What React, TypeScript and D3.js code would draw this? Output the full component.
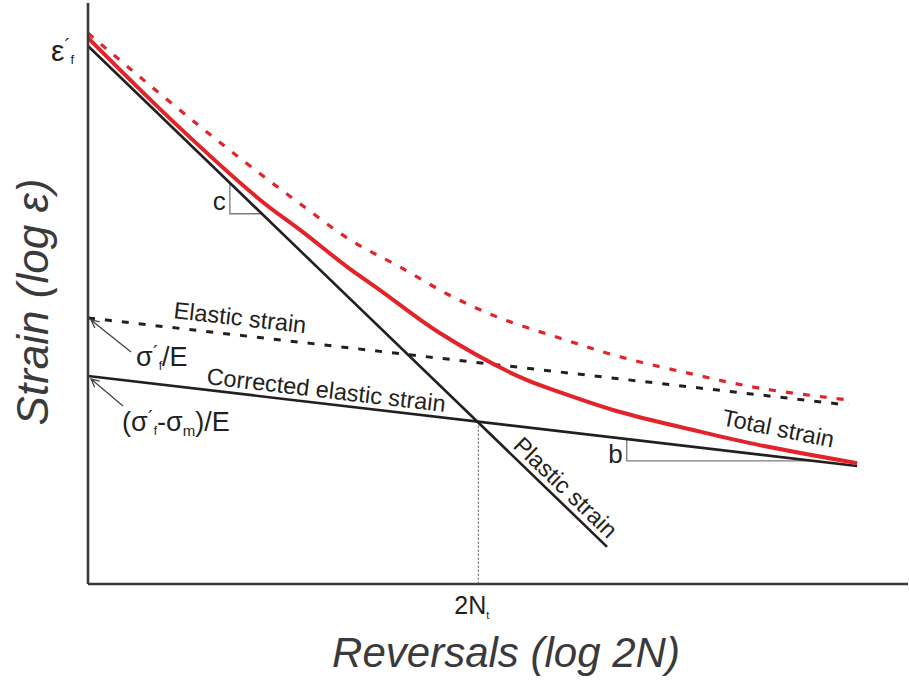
import React from "react";
import * as d3 from "d3";

// Abstract log-log units (x: log 2N, y: log ε)
const plasticX = [0, 63.3];
const plasticY = [92.6, 6.4];
const correctedX = [0, 93.8];
const correctedY = [35.8, 20.3];
const elasticX = [0, 92.7];
const elasticY = [45.8, 30.8];
const totalX = [0, 11.2, 21.0, 25.9, 31.6, 35.6, 42.9, 52.7, 57.6, 64.9, 73.8, 81.9, 93.8];
const totalY = [94.0, 78.5, 66.1, 60.9, 54.6, 50.6, 43.2, 35.6, 33.0, 29.6, 26.5, 23.9, 20.8];
const totalUncX = [0, 6.3, 13.7, 19.8, 25.9, 32.0, 38.0, 44.1, 50.2, 57.6, 64.9, 73.8, 81.9, 92.6];
const totalUncY = [94.8, 87.3, 78.7, 71.9, 65.4, 59.2, 54.6, 49.7, 45.8, 42.3, 39.1, 36.1, 33.7, 31.7];
const transitionX = 47.6;
const cTriangleX = [17.3, 21.2];
const bTriangleX = [65.7, 88.4];

const W = 909;
const H = 681;
const RED = "#e2232a";
const BLACK = "#231f20";
const GRAY = "#7a7a7a";
const FONT = "'Liberation Sans', Arial, Helvetica, sans-serif";

const x = d3.scaleLinear().domain([0, 100]).range([88, 908]);
const y = d3.scaleLinear().domain([0, 100]).range([584, 3]);

const lineGen = d3
  .line<[number, number]>()
  .x((d) => x(d[0]))
  .y((d) => y(d[1]));
const curveGen = d3
  .line<[number, number]>()
  .x((d) => x(d[0]))
  .y((d) => y(d[1]))
  .curve(d3.curveCatmullRom.alpha(0.5));

const zip = (a: number[], b: number[]) => a.map((v, i) => [v, b[i]] as [number, number]);
const interp = (xs: number[], ys: number[], v: number) =>
  ys[0] + ((ys[1] - ys[0]) * (v - xs[0])) / (xs[1] - xs[0]);

function triangle(xs: number[], ys: number[], t: number[]) {
  const y0 = interp(xs, ys, t[0]);
  const y1 = interp(xs, ys, t[1]);
  return `M${x(t[0])},${y(y0)} L${x(t[0])},${y(y1)} L${x(t[1])},${y(y1)}`;
}

function arrow(x1: number, y1: number, x2: number, y2: number) {
  const ang = Math.atan2(y2 - y1, x2 - x1);
  const L = 9;
  const a1 = ang + Math.PI - 0.45;
  const a2 = ang + Math.PI + 0.45;
  return `M${x1},${y1} L${x2},${y2} M${x2 + L * Math.cos(a1)},${y2 + L * Math.sin(a1)} L${x2},${y2} L${x2 + L * Math.cos(a2)},${y2 + L * Math.sin(a2)}`;
}

export default function App() {
  const angElastic = (Math.atan2(y(elasticY[1]) - y(elasticY[0]), x(elasticX[1]) - x(elasticX[0])) * 180) / Math.PI;
  const angCorr = (Math.atan2(y(correctedY[1]) - y(correctedY[0]), x(correctedX[1]) - x(correctedX[0])) * 180) / Math.PI;
  const angPlastic = (Math.atan2(y(plasticY[1]) - y(plasticY[0]), x(plasticX[1]) - x(plasticX[0])) * 180) / Math.PI;
  const yTrans = interp(correctedX, correctedY, transitionX);
  const yElastic0 = y(elasticY[0]);
  const yCorr0 = y(correctedY[0]);

  return (
    <svg
      width={W}
      height={H}
      style={{ position: "absolute", left: 0, top: 0, background: "#fff" }}
      fontFamily={FONT}
    >
      {/* dotted transition line */}
      <line
        x1={x(transitionX)}
        x2={x(transitionX)}
        y1={y(yTrans)}
        y2={y(0)}
        stroke="#555"
        strokeWidth={1}
        strokeDasharray="2,2"
      />
      {/* c and b slope triangles */}
      <path d={triangle(plasticX, plasticY, cTriangleX)} fill="none" stroke={GRAY} strokeWidth={1.3} />
      <path d={triangle(correctedX, correctedY, bTriangleX)} fill="none" stroke={GRAY} strokeWidth={1.3} />

      {/* uncorrected curves (dashed) */}
      <path d={lineGen(zip(elasticX, elasticY)) || ""} fill="none" stroke={BLACK} strokeWidth={3} strokeDasharray="7,10" />
      <path d={curveGen(zip(totalUncX, totalUncY)) || ""} fill="none" stroke={RED} strokeWidth={3.2} strokeDasharray="7,10" />

      {/* solid lines */}
      <path d={lineGen(zip(plasticX, plasticY)) || ""} fill="none" stroke={BLACK} strokeWidth={2.6} />
      <path d={lineGen(zip(correctedX, correctedY)) || ""} fill="none" stroke={BLACK} strokeWidth={2.6} />
      <path d={curveGen(zip(totalX, totalY)) || ""} fill="none" stroke={RED} strokeWidth={4} />

      {/* axes */}
      <line x1={x(0)} x2={x(0)} y1={y(100)} y2={y(0)} stroke="#3a3a3a" strokeWidth={2.6} />
      <line x1={x(0)} x2={x(100)} y1={y(0)} y2={y(0)} stroke="#3a3a3a" strokeWidth={2.6} />

      {/* line labels */}
      <text x={173} y={318} fontSize={23.5} fill={BLACK} transform={`rotate(${angElastic},173,318)`}>
        Elastic strain
      </text>
      <text x={206} y={384} fontSize={23.5} fill={BLACK} transform={`rotate(${angCorr},206,384)`}>
        Corrected elastic strain
      </text>
      <text x={512} y={447} fontSize={23.5} fill={BLACK} transform={`rotate(${angPlastic},512,447)`}>
        Plastic strain
      </text>
      <text x={721} y={425} fontSize={23.5} fill={BLACK} transform={`rotate(11.5,721,425)`}>
        Total strain
      </text>

      {/* slope letters */}
      <text x={x(cTriangleX[0]) - 4} y={210} fontSize={26} textAnchor="end" fill={BLACK}>
        c
      </text>
      <text x={x(bTriangleX[0]) - 4} y={463} fontSize={26} textAnchor="end" fill={BLACK}>
        b
      </text>

      {/* ε'f */}
      <text x={51} y={61} fontSize={30} fill={BLACK}>
        ε<tspan fontSize={18} dy={-9}>´</tspan>
        <tspan fontSize={13} dy={12} dx={0}>f</tspan>
      </text>

      {/* σ'f/E */}
      <path d={arrow(131, 352, x(0) + 3, yElastic0 + 2)} fill="none" stroke="#444" strokeWidth={1.3} />
      <text x={136} y={366} fontSize={27} fill={BLACK}>
        σ<tspan fontSize={18} dy={-7}>´</tspan>
        <tspan fontSize={12} dy={11} dx={0}>f</tspan>
        <tspan dy={-4}>/E</tspan>
      </text>

      {/* (σ'f-σm)/E */}
      <path d={arrow(123, 406, x(0) + 3, yCorr0 + 3)} fill="none" stroke="#444" strokeWidth={1.3} />
      <text x={122} y={431} fontSize={27} fill={BLACK}>
        (σ<tspan fontSize={18} dy={-7}>´</tspan>
        <tspan fontSize={12} dy={11} dx={0}>f</tspan>
        <tspan dy={-4}>-σ</tspan>
        <tspan fontSize={15} dy={5}>m</tspan>
        <tspan dy={-5}>)/E</tspan>
      </text>

      {/* 2Nt */}
      <text x={x(transitionX) - 24} y={614} fontSize={25} fill={BLACK}>
        2N<tspan fontSize={11} dy={5}>t</tspan>
      </text>

      {/* axis titles */}
      <text x={506} y={667} fontSize={42} fontStyle="italic" textAnchor="middle" fill="#3a3a3a">
        Reversals (log 2N)
      </text>
      <text
        x={0}
        y={0}
        fontSize={44}
        fontStyle="italic"
        textAnchor="middle"
        fill="#3a3a3a"
        transform="translate(48,302) rotate(-90)"
      >
        Strain (log ε)
      </text>
    </svg>
  );
}
